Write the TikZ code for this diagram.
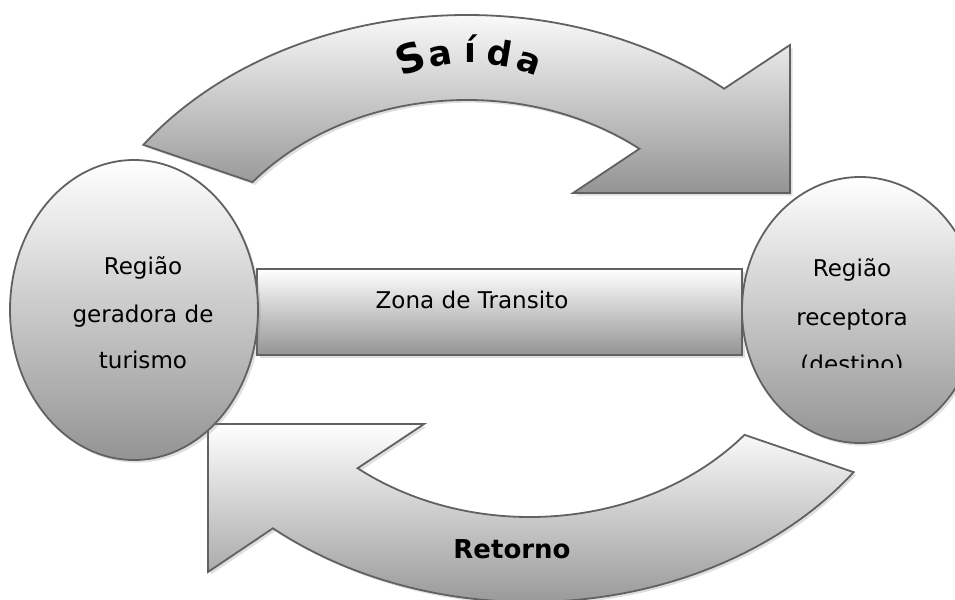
\documentclass[tikz,border=0pt]{standalone}
\usepackage{fontspec}
\setmainfont{DejaVu Sans}
\usetikzlibrary{calc,shadows}

\tikzset{every picture/.style={line width=0.75pt}}
\tikzset{
  shp/.style={draw=black!62, line width=1.35pt, top color=white, bottom color=black!42,
    drop shadow={shadow xshift=2pt, shadow yshift=-2pt, opacity=0.25}},
  lbl/.style={inner sep=0pt, anchor=base, font=\fontsize{17.3}{20}\selectfont},
  sletter/.style={inner sep=0pt, anchor=base, font=\fontsize{26}{28}\selectfont\bfseries},
}

\begin{document}
\begin{tikzpicture}[x=0.75pt,y=0.75pt,yscale=-1,xscale=1]
	\clip (0,0) rectangle (955,599);
	
	% centres of the two curved arrows and of the word arch
	\coordinate (ctop) at (467,330);
	\coordinate (cbot) at (530,287);
	\coordinate (sarc) at (470,233);
	
	%Shape: Curved Arrow [Saida]
	\draw[shp] ($(ctop)+(-144:400 and 315)$) arc[start angle=-144, end angle=-50, x radius=400, y radius=315] -- (790,45) -- (790,193) -- (573,193) -- ($(ctop)+(-52:280 and 230)$) arc[start angle=-52, end angle=-140, x radius=280, y radius=230] -- cycle;
	%Shape: Curved Arrow [Retorno]
	\draw[shp] ($(cbot)+(36:400 and 315)$) arc[start angle=36, end angle=130, x radius=400, y radius=315] -- (208,572) -- (208,424) -- (424,424) -- ($(cbot)+(128:280 and 230)$) arc[start angle=128, end angle=40, x radius=280, y radius=230] -- cycle;
	
	%Shape: Rectangle [zona de transito]
	\draw[shp] (257,269) rectangle (742,355);
	%Shape: Ellipse [regiao geradora]
	\draw[shp] (134,310) ellipse [x radius=124, y radius=150];
	%Shape: Ellipse [regiao receptora]
	\draw[shp] (860,310) ellipse [x radius=118, y radius=133];
	
	% Text Node
	\node[lbl] (gen1) at (143,274) {Região};
	\node[lbl] (gen2) at (143,322) {geradora de};
	\node[lbl] (gen3) at (143,368) {turismo};
	% Text Node
	\node[lbl] (zona) at (472,308) {Zona de Transito};
	% Text Node (last line cut off)
	\node[lbl] (rec1) at (852,276) {Região};
	\node[lbl] (rec2) at (852,325) {receptora};
	\begin{scope}
		\clip (742,0) rectangle (955,367);
		\node[lbl] (rec3) at (852,372) {(destino)};
	\end{scope}
	% Text Node
	\node[lbl, font=\fontsize{19.5}{22}\selectfont\bfseries] (ret) at (512,558) {Retorno};
	
	% Text Node: arched word
	\node[sletter, font=\fontsize{30}{32}\selectfont\bfseries, rotate=19] (sai1) at ($(sarc)+(-109:170)$) {S};
	\node[sletter, rotate=9.5] (sai2) at ($(sarc)+(-99.5:170)$) {a};
	\node[sletter] (sai3) at ($(sarc)+(-90:170)$) {í};
	\node[sletter, rotate=-9.5] (sai4) at ($(sarc)+(-80.5:170)$) {d};
	\node[sletter, rotate=-19] (sai5) at ($(sarc)+(-71:170)$) {a};
	
\end{tikzpicture}
\end{document}
